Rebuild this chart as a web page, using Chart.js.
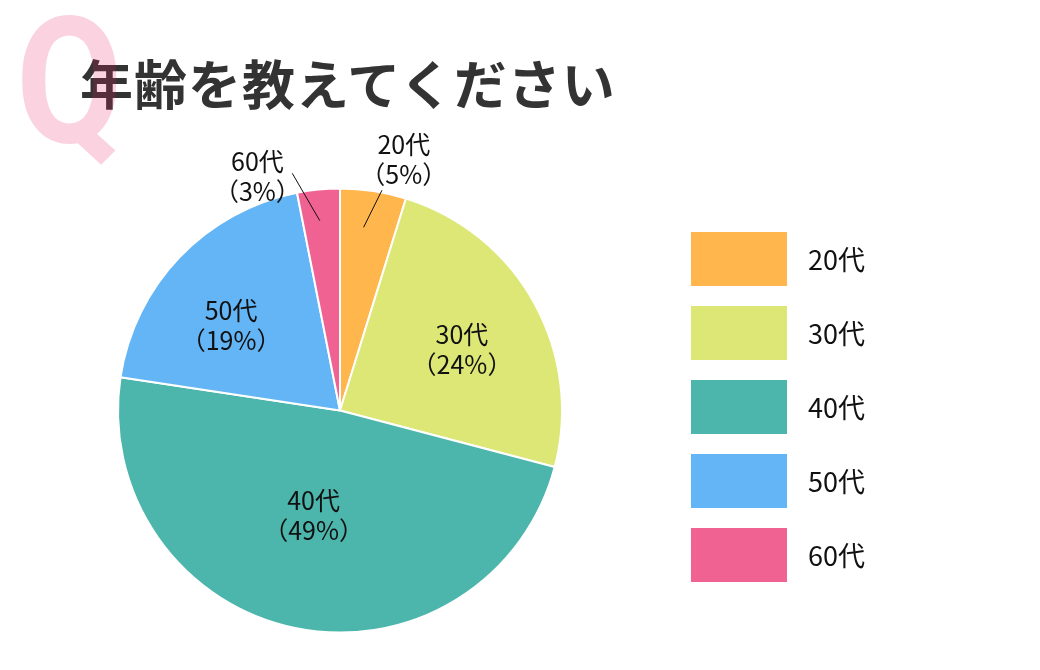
<!DOCTYPE html>
<html lang="ja">
<head>
<meta charset="utf-8">
<title>年齢を教えてください</title>
<script src="https://cdn.jsdelivr.net/npm/chart.js@4.4.1/dist/chart.umd.min.js"></script>
<style>
    html, body { margin: 0; padding: 0; background: #fff; }
    #wrap { position: relative; width: 1040px; height: 670px; overflow: hidden; }
    #chartBox { position: absolute; left: 0; top: 0; width: 1040px; height: 670px; }
    #title {
        position: absolute; left: 80px; top: 56px;
        font-family: "Noto Sans CJK JP", sans-serif; font-weight: 700;
        font-size: 53px; line-height: 53px; letter-spacing: 1px; color: #333; white-space: nowrap;
    }
    #qmark {
        position: absolute; left: 16px; top: -6px;
        font-family: Roboto, sans-serif; font-weight: 700;
        font-size: 176px; line-height: 176px; color: rgba(233, 30, 99, 0.2);
        transform: scaleX(0.88); transform-origin: left top;
    }
    #legend { position: absolute; left: 691px; top: 232px; }
    .item { position: absolute; left: 0; height: 54px; white-space: nowrap; }
    .item .box { position: absolute; left: 0; top: 0; width: 96px; height: 54px; }
    .item .txt {
        position: absolute; left: 117px; top: 0; line-height: 54px;
        font-family: "Noto Sans CJK JP", sans-serif; font-size: 27px; color: #111;
    }
</style>
</head>
<body>
<div id="wrap">
    <div id="chartBox"><canvas id="PieChart"></canvas></div>
    <div id="title">年齢を教えてください</div>
    <div id="qmark">Q</div>
    <div id="legend"></div>
</div>
<script>
var categories = ['20代', '30代', '40代', '50代', '60代'];
// slice sizes as drawn (percent of the circle)
var values = [4.8, 24.3, 48.3, 19.5, 3.1];
// percent text as printed on the slices
var percentLabels = ['5%', '24%', '49%', '19%', '3%'];
var colors = ['#FFB74D', '#DCE775', '#4DB6AC', '#64B5F6', '#F06292'];

// where each label sits: radius as share of the pie radius, angle shift (deg) from the slice middle
var labelPlace = [
    { r: 1.168, a: 5.6, line: [0.832, -1.3, 1.01, 2.15] },
    { r: 0.615, a: 2.3 },
    { r: 0.486, a: 2.5 },
    { r: 0.623, a: -5.7 },
    { r: 1.116, a: -13.9, line: [0.86, -0.5, 1.09, -5.8] }
];

var sliceLabels = {
    id: 'sliceLabels',
    afterDatasetsDraw: function (chart) {
        var ctx = chart.ctx;
        var meta = chart.getDatasetMeta(0);
        ctx.save();
        ctx.fillStyle = '#111';
        ctx.strokeStyle = '#111';
        ctx.lineWidth = 1;
        ctx.font = '25px "Noto Sans CJK JP", sans-serif';
        ctx.textAlign = 'center';
        ctx.textBaseline = 'middle';
        meta.data.forEach(function (arc, i) {
            var p = labelPlace[i];
            var mid = (arc.startAngle + arc.endAngle) / 2;
            var R = arc.outerRadius;
            var ang = mid + p.a * Math.PI / 180;
            var cx = arc.x + Math.cos(ang) * R * p.r;
            var cy = arc.y + Math.sin(ang) * R * p.r;
            ctx.fillText(categories[i], cx, cy - 15);
            ctx.fillText('（' + percentLabels[i] + '）', cx, cy + 15);
            if (p.line) {
                var a0 = mid + p.line[1] * Math.PI / 180;
                var a1 = mid + p.line[3] * Math.PI / 180;
                ctx.beginPath();
                ctx.moveTo(arc.x + Math.cos(a0) * R * p.line[0], arc.y + Math.sin(a0) * R * p.line[0]);
                ctx.lineTo(arc.x + Math.cos(a1) * R * p.line[2], arc.y + Math.sin(a1) * R * p.line[2]);
                ctx.stroke();
            }
        });
        ctx.restore();
    }
};

function showPieChart(labels, datas) {
    var pieCanvas = document.getElementById('PieChart').getContext('2d');

    var pieChart = new Chart(pieCanvas, {
        type: 'pie',
        data: {
            labels: labels,
            datasets: [{
                data: datas,
                backgroundColor: colors,
                borderColor: '#ffffff',
                borderWidth: 2
            }]
        },
        options: {
            responsive: true,
            maintainAspectRatio: false,
            animation: false,
            radius: 222,
            layout: { padding: { left: 0, right: 360, top: 151, bottom: 0 } },
            plugins: {
                legend: { display: false },
                tooltip: { enabled: false }
            }
        },
        plugins: [sliceLabels]
    });
}

function showLegend(labels) {
    var box = document.getElementById('legend');
    var tops = [0, 74, 148, 222, 296];
    labels.forEach(function (name, i) {
        var item = document.createElement('div');
        item.className = 'item';
        item.style.top = tops[i] + 'px';
        item.innerHTML = '<div class="box" style="background:' + colors[i] + '"></div><div class="txt">' + name + '</div>';
        box.appendChild(item);
    });
}

showPieChart(categories, values);
showLegend(categories);
</script>
</body>
</html>
